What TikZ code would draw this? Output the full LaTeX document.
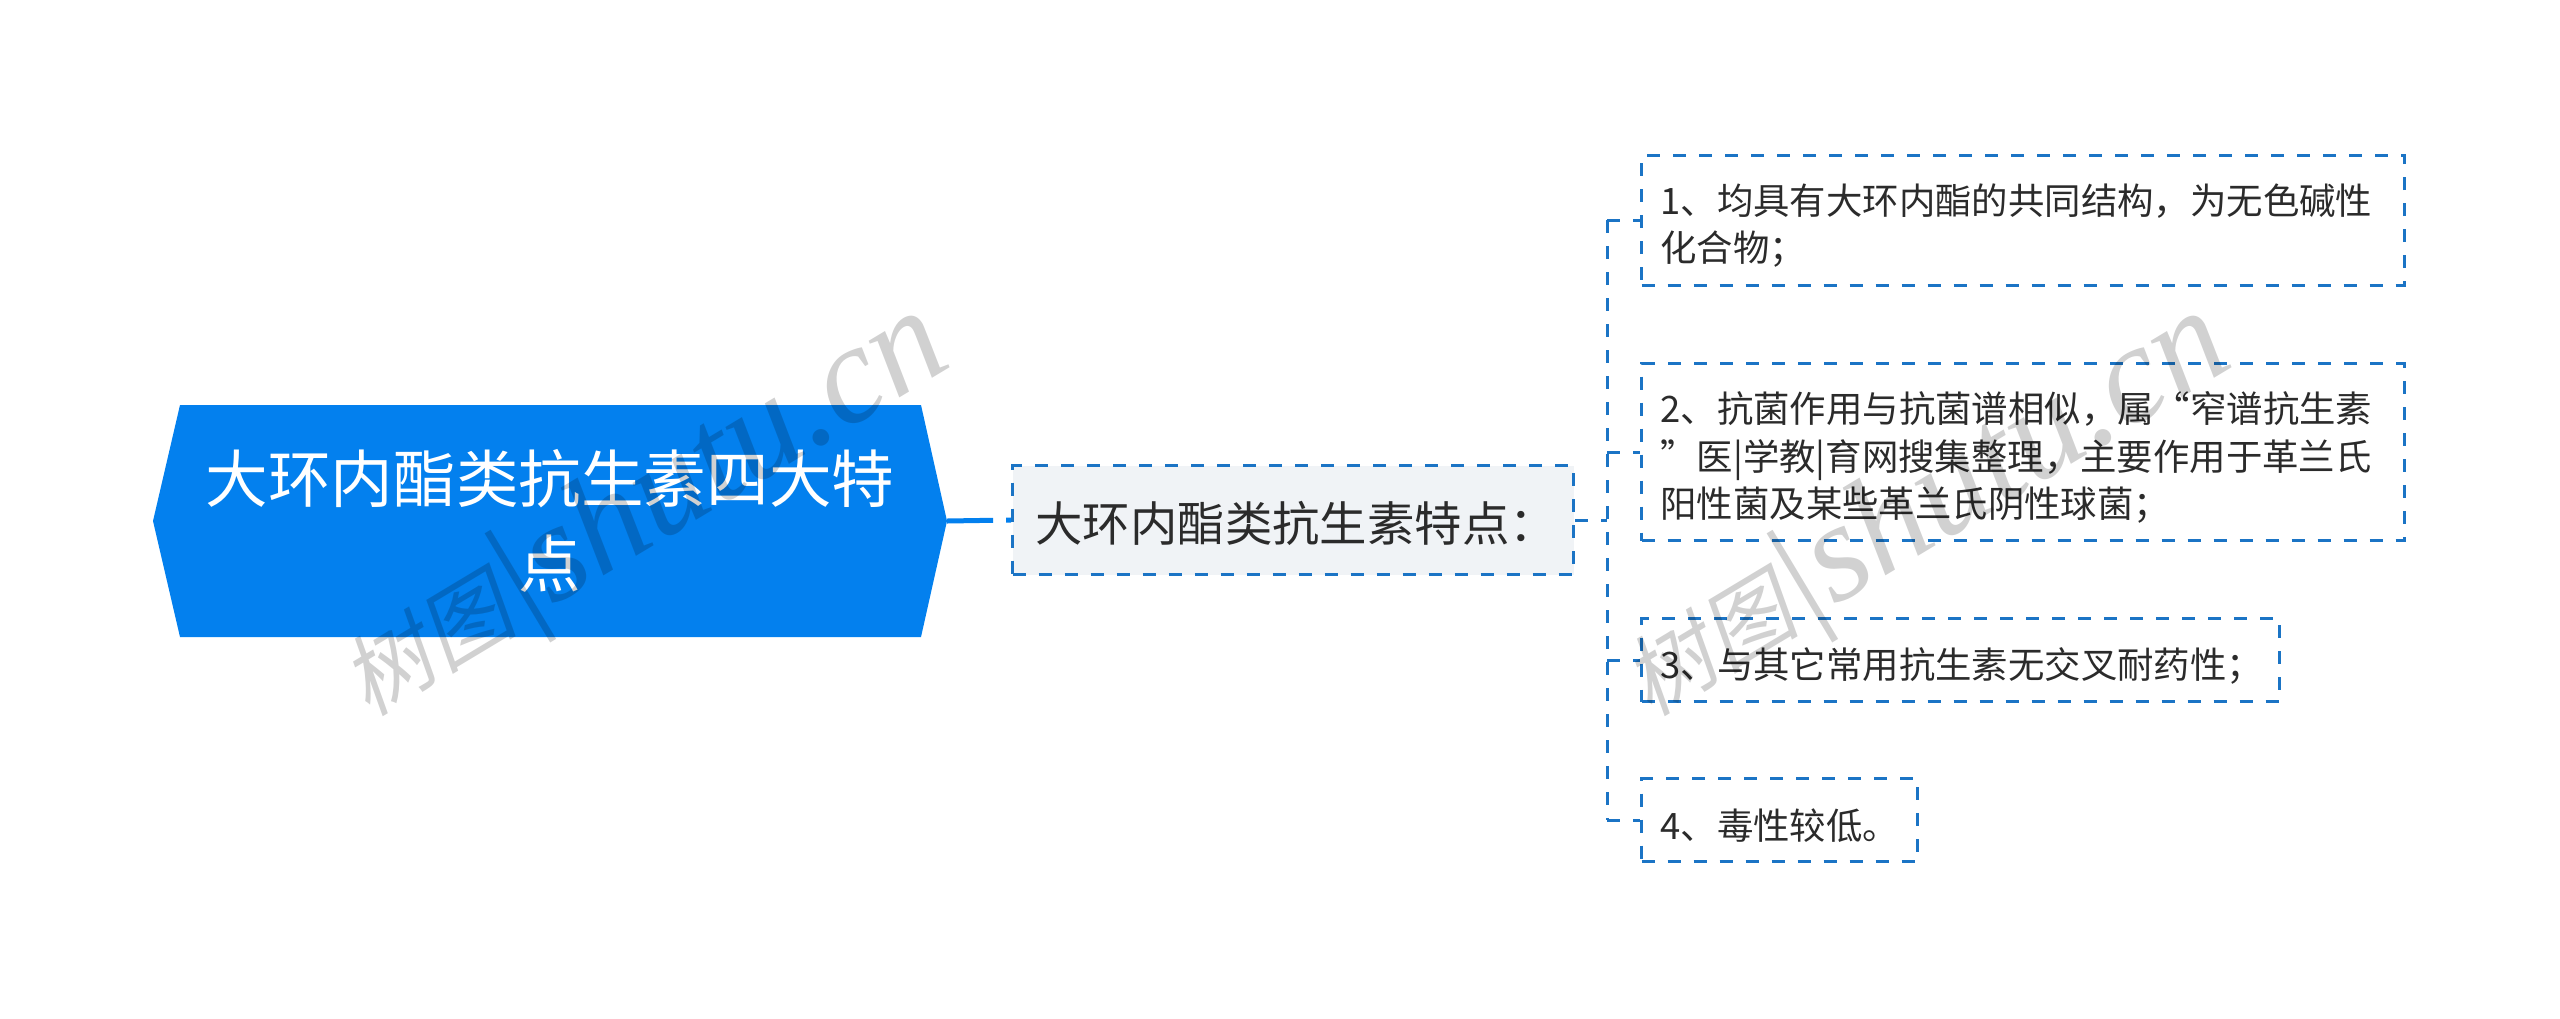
\documentclass[tikz,border=0pt]{standalone}
\usepackage{fontspec}
\setmainfont{Noto Sans CJK SC}
\newfontfamily\markfont{Liberation Serif}
\newfontfamily\markcjk[FakeSlant=0.2]{Noto Sans CJK SC}
\definecolor{rootblue}{HTML}{0380EE}
\definecolor{linkblue}{HTML}{1B74C5}
\definecolor{mainfill}{HTML}{F0F3F6}
\definecolor{txtdark}{HTML}{2B2B2B}
\tikzset{
  rootnode/.style={text=white,font=\fontsize{62.6}{85}\selectfont,align=center,text width=720pt,inner sep=0pt},
  mainnode/.style={draw=linkblue,fill=mainfill,line width=3pt,dash pattern=on 13pt off 13pt,text=txtdark,font=\fontsize{47.4}{60}\selectfont,inner sep=0pt,execute at begin node={\rule{0pt}{48pt}}},
  leafnode/.style={draw=linkblue,line width=3pt,dash pattern=on 13pt off 13pt,text=txtdark,font=\fontsize{36.4}{47.5}\selectfont,inner sep=0pt,execute at begin node={\rule{0pt}{42pt}}},
  linkline/.style={linkblue,line width=3pt,dash pattern=on 13pt off 13pt},
  markstyle/.style={black,opacity=0.18,rotate=31,inner sep=0pt}
}
\begin{document}
\begin{tikzpicture}[x=1pt,y=-1pt]
  \useasboundingbox (0,0) rectangle (2560,1018);
  % root
  \fill[rootblue] (153,521) -- (180,405) -- (921,405) -- (947,521) -- (921,637) -- (180,637) -- cycle;
  \node[rootnode,minimum width=794pt,minimum height=232pt] (root) at (550,521) {大环内酯类抗生素四大特\\点};
  % main topic
  \node[mainnode,minimum width=561pt,minimum height=109pt,text width=515pt] (topic) at (1293,520) {大环内酯类抗生素特点：};
  % leaves
  \node[leafnode,minimum width=763pt,minimum height=130pt,text width=725pt,anchor=west] (one) at (1640,220) {1、均具有大环内酯的共同结构，为无色碱性\\化合物；};
  \node[leafnode,minimum width=763pt,minimum height=177pt,text width=725pt,anchor=west] (two) at (1640,452) {2、抗菌作用与抗菌谱相似，属“窄谱抗生素\\”医|学教|育网搜集整理，主要作用于革兰氏\\阳性菌及某些革兰氏阴性球菌；};
  \node[leafnode,minimum width=638pt,minimum height=83pt,text width=600pt,anchor=west] (three) at (1640,660) {3、与其它常用抗生素无交叉耐药性；};
  \node[leafnode,minimum width=276pt,minimum height=83pt,text width=238pt,anchor=west] (four) at (1640,820) {4、毒性较低。};
  % links
  \draw[rootblue,line width=5pt,dash pattern=on 46pt off 13pt] (root.east) -- (topic.west);
  \coordinate (spinetop) at (1607,220);
  \coordinate (spinemid) at (1607,520);
  \coordinate (spinebot) at (1607,820);
  \draw[linkline] (spinetop) -- (spinebot);
  \draw[linkline] (topic.east) -- (spinemid);
  \foreach \leaf in {one,two,three,four}
    \draw[linkline] (spinetop |- \leaf.west) -- (\leaf.west);
  % watermarks
  \node[markstyle] (markleft) at (645,512) {\fontsize{88}{88}\markcjk 树图\fontsize{140}{140}\markfont\itshape|shutu.cn};
  \node[markstyle] (markright) at (1927,512) {\fontsize{88}{88}\markcjk 树图\fontsize{140}{140}\markfont\itshape|shutu.cn};
\end{tikzpicture}
\end{document}
